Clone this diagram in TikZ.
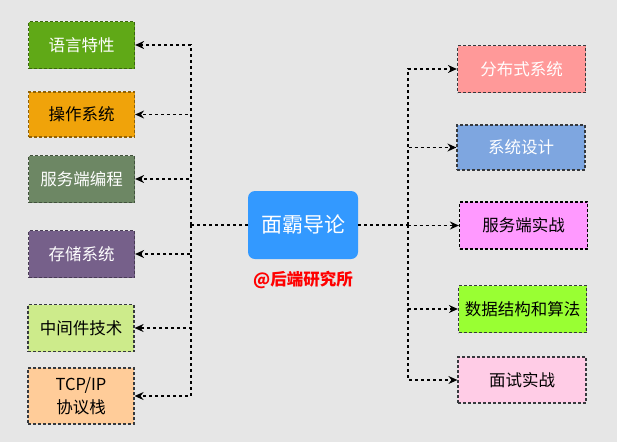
\documentclass[tikz,border=0pt]{standalone}
\usepackage{fontspec}
\setmainfont{Noto Sans CJK SC}
\usepackage{tikz}
\usetikzlibrary{arrows,arrows.meta,positioning}
\definecolor{cBg}{RGB}{230,230,230}
\definecolor{cLang}{HTML}{60A917}
\definecolor{cOs}{HTML}{F0A30A}
\definecolor{cSrv}{HTML}{6D8764}
\definecolor{cStore}{HTML}{76608A}
\definecolor{cMid}{HTML}{CDEB8B}
\definecolor{cTcp}{HTML}{FFCC99}
\definecolor{cDist}{HTML}{FF9999}
\definecolor{cDesign}{HTML}{7EA6E0}
\definecolor{cPrac}{HTML}{FF99FF}
\definecolor{cAlgo}{HTML}{99FF33}
\definecolor{cIntv}{HTML}{FFCCE6}
\definecolor{cRoot}{HTML}{3399FF}
\definecolor{cDark}{HTML}{36393D}

\tikzset{
  topic/.style={draw=#1!60!black, fill=#1, dash pattern=on 3pt off 2pt, line width=1.2pt,
    minimum width=106pt, minimum height=47pt, inner sep=2pt, align=center,
    font=\fontsize{16.5}{23}\selectfont},
  wide/.style={minimum width=128pt},
  trunk/.style={dash pattern=on 3pt off 3pt, line width=1.2pt},
  link/.style={trunk, -{Stealth[length=9pt,width=8pt,inset=3pt]}}
}

\begin{document}
\begin{tikzpicture}[x=1pt,y=-1pt]
  \useasboundingbox[fill=cBg] (0,0) rectangle (617,442);
  % root
  \node[fill=cRoot, rounded corners=7pt, minimum width=110pt, minimum height=68pt,
        text=white, font=\fontsize{21}{25}\selectfont] (root) at (303,225) {面霸导论};
  \node[text=red, font=\bfseries\fontsize{16.5}{20}\selectfont] (sign) at (303,280) {@后端研究所};
  % left side
  \node[topic=cLang, text=white] (lang) at (81.5,45) {语言特性};
  \node[topic=cOs, minimum height=45pt] (os) at (81.5,114.5) {操作系统};
  \node[topic=cSrv, text=white] (srv) at (81.5,179) {服务端编程};
  \node[topic=cStore, text=white] (store) at (81.5,254) {存储系统};
  \node[topic=cMid, draw=cDark] (mid) at (81,328) {中间件技术};
  \node[topic=cTcp, draw=cDark, minimum height=56pt] (tcp) at (81,396) {TCP/IP\\协议栈};
  % right side
  \node[topic=cDist, wide, text=white, draw=cDark] (dist) at (521.5,69) {分布式系统};
  \node[topic=cDesign, wide, text=white, draw=cDark, minimum height=45pt] (design) at (521,147.5) {系统设计};
  \node[topic=cPrac, wide, draw=black] (prac) at (523.5,225.5) {服务端实战};
  \node[topic=cAlgo, wide, draw=cDark] (algo) at (522.5,309) {数据结构和算法};
  \node[topic=cIntv, wide, draw=cDark, minimum height=46pt] (intv) at (522,380) {面试实战};
  % branches
  \coordinate (lj) at (191,225);
  \coordinate (rj) at (408,225);
  \draw[trunk] (root.west) -- (lj);
  \draw[trunk] (root.east) -- (rj);
  \foreach \n in {lang,os,srv,store,mid,tcp}
    \draw[link] (lj) |- (\n.east);
  \foreach \n in {dist,design,prac,algo,intv}
    \draw[link] (rj) |- (\n.west);
\end{tikzpicture}
\end{document}
